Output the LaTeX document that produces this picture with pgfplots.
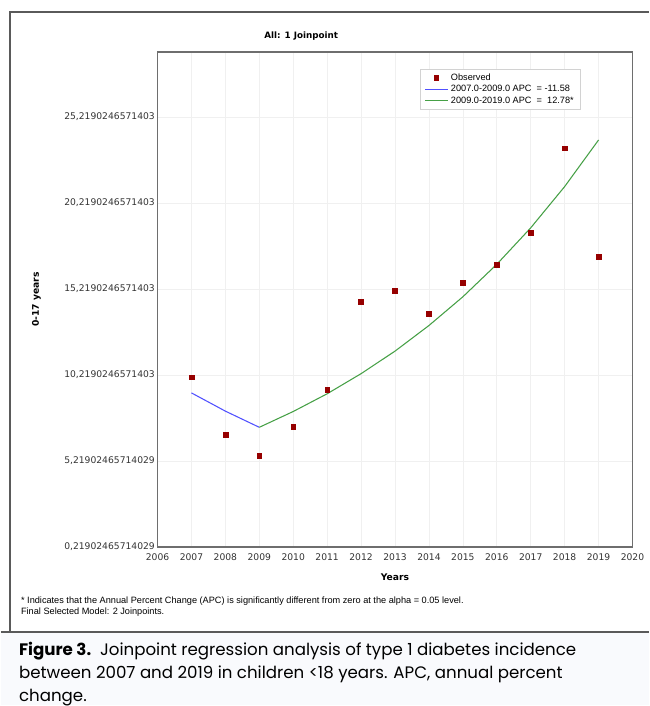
\documentclass[border=0pt]{standalone}
\usepackage{pgfplots}
\pgfplotsset{compat=1.18}
\usepackage{fontspec}
\setmainfont{DejaVu Sans}
\newfontfamily\arialf{Liberation Sans}
\newfontfamily\capf{Poppins}
\definecolor{obsred}{RGB}{150,0,0}
\definecolor{segblue}{RGB}{80,80,255}
\definecolor{seggreen}{RGB}{70,160,70}
\definecolor{framegray}{RGB}{90,90,90}
\definecolor{axgray}{RGB}{110,110,110}
\definecolor{capbg}{RGB}{249,250,253}
\begin{document}
\begin{tikzpicture}
\begin{scope}[x=0.75pt,y=-0.75pt]
  \path (0,0) rectangle (649,706);
  \fill[capbg] (0,633) rectangle (649,706);
  \draw[framegray, line width=1.1pt] (9,633) -- (9,12) -- (649,12);
  \draw[framegray, line width=1.3pt] (0,633) -- (649,633);
  \node[anchor=base, font=\bfseries\fontsize{6.6pt}{7pt}\selectfont] at (301,39) {All: 1 Joinpoint};
  \node[anchor=base, font=\bfseries\fontsize{6.9pt}{8pt}\selectfont] at (395,582) {Years};
  \node[anchor=base, rotate=90, font=\bfseries\fontsize{6.9pt}{8pt}\selectfont] at (38,300) {0-17 years};
  \node[anchor=base west, inner sep=0pt, font=\arialf\fontsize{6.9pt}{7pt}\selectfont] at (20,605) {* Indicates that the Annual Percent Change (APC) is significantly different from zero at the alpha = 0.05 level.};
  \node[anchor=base west, inner sep=0pt, font=\arialf\fontsize{6.9pt}{7pt}\selectfont] at (20,616) {Final Selected Model: 2 Joinpoints.};
  \node[anchor=base west, inner sep=0pt, font=\capf\fontsize{12.5pt}{15pt}\selectfont] at (18,657) {\textbf{Figure 3.}\ \ Joinpoint regression analysis of type 1 diabetes incidence};
  \node[anchor=base west, inner sep=0pt, font=\capf\fontsize{12.5pt}{15pt}\selectfont] at (18,680) {between 2007 and 2019 in children <18 years. APC, annual percent};
  \node[anchor=base west, inner sep=0pt, font=\capf\fontsize{12.5pt}{15pt}\selectfont] at (18,703) {change.};
\end{scope}
\begin{axis}[
  at={(117.75pt,-411pt)}, anchor=south west,
  scale only axis, width=357pt, height=372pt,
  xmin=2006, xmax=2020,
  ymin=0.21902465714029, ymax=29.0,
  xtick={2006,2007,...,2020},
  xticklabels={2006,2007,2008,2009,2010,2011,2012,2013,2014,2015,2016,2017,2018,2019,2020},
  ytick={0.21902465714029,5.21902465714029,10.2190246571403,15.2190246571403,20.2190246571403,25.2190246571403},
  yticklabels={{0,21902465714029},{5,21902465714029},{10,2190246571403},{15,2190246571403},{20,2190246571403},{25,2190246571403}},
  tick label style={font=\fontsize{6.9pt}{8pt}\selectfont, text=black!80},
  yticklabel style={xshift=1.5pt},
  xticklabel style={yshift=-1.5pt},
  major tick length=0pt,
  grid=major,
  major grid style={gray!12, line width=0.5pt},
  axis line style={axgray, line width=1.1pt},
  clip=true,
  legend style={at={(0.553,0.966)}, anchor=north west, draw=gray!35, line width=0.5pt,
    font=\arialf\fontsize{6.9pt}{7.5pt}\selectfont, inner xsep=3pt, inner ysep=1.5pt,
    row sep=-1.8pt, cells={anchor=west}},
  legend cell align=left,
]
\addplot[only marks, mark=square*, mark size=1.8pt, color=obsred] coordinates {
(2007,10.08) (2008,6.72) (2009,5.50) (2010,7.18) (2011,9.33) (2012,14.49) (2013,15.13)
(2014,13.79) (2015,15.59) (2016,16.63) (2017,18.49) (2018,23.40) (2019,17.09)
};
\addlegendentry{Observed}
\addplot[segblue, line width=0.8pt, mark=none] coordinates {
(2007,9.17) (2008,8.11) (2009,7.17)
};
\addlegendentry{2007.0-2009.0 APC \ = -11.58}
\addplot[seggreen, line width=0.8pt, mark=none] coordinates {
(2009,7.17) (2010,8.09) (2011,9.12) (2012,10.29) (2013,11.60) (2014,13.09) (2015,14.76)
(2016,16.65) (2017,18.77) (2018,21.17) (2019,23.88)
};
\addlegendentry{2009.0-2019.0 APC \ = \ 12.78*}
\end{axis}
\end{tikzpicture}
\end{document}
